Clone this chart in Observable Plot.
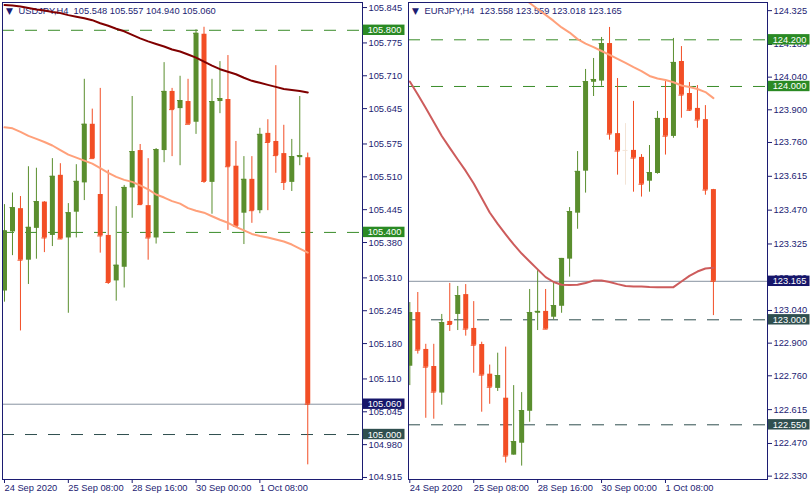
<!DOCTYPE html>
<html><head><meta charset="utf-8">
<script src="https://cdn.jsdelivr.net/npm/d3@7"></script>
<script src="https://cdn.jsdelivr.net/npm/@observablehq/plot@0.6"></script>
<style>
body{margin:0;background:#fff;}
#wrap{display:flex;width:812px;height:500px;overflow:hidden;}
#wrap svg{display:block;flex:none;}
</style></head><body><div id="wrap"></div>
<script>
// ---- shared time axis ----
const timeTickIdx = [0, 8, 16, 24, 32];
const timeTickLabels = ["24 Sep 2020", "25 Sep 08:00", "28 Sep 16:00", "30 Sep 00:00", "1 Oct 08:00"];

// ---- USDJPY H4 ----
const usdjpyOpen  = [105.284,105.401,105.447,105.345,105.408,105.460,105.394,105.513,105.389,105.440,105.498,105.614,105.475,105.394,105.304,105.331,105.488,105.562,105.453,105.389,105.562,105.679,105.645,105.659,105.618,105.792,105.499,105.659,105.663,105.531,105.438,105.505,105.443,105.596,105.580,105.556,105.499,105.548,105.548];
const usdjpyHigh  = [105.455,105.478,105.471,105.530,105.527,105.461,105.546,105.536,105.457,105.534,105.703,105.644,105.685,105.523,105.451,105.493,105.669,105.574,105.546,105.566,105.736,105.685,105.709,105.703,105.801,105.806,105.703,105.738,105.750,105.580,105.550,105.550,105.606,105.623,105.730,105.612,105.584,105.669,105.557];
const usdjpyLow   = [105.262,105.354,105.205,105.297,105.347,105.360,105.372,105.386,105.240,105.389,105.463,105.546,105.359,105.297,105.264,105.290,105.428,105.453,105.345,105.377,105.538,105.550,105.532,105.614,105.594,105.497,105.436,105.635,105.404,105.412,105.376,105.418,105.437,105.443,105.517,105.483,105.481,105.532,104.940];
const usdjpyClose = [105.403,105.449,105.345,105.410,105.461,105.389,105.511,105.387,105.439,105.501,105.614,105.546,105.393,105.301,105.335,105.489,105.560,105.455,105.389,105.564,105.679,105.643,105.661,105.614,105.794,105.501,105.659,105.665,105.530,105.412,105.505,105.443,105.594,105.578,105.552,105.499,105.550,105.552,105.060];
const usdjpyMaSlow = [105.850,105.849,105.847,105.844,105.841,105.839,105.836,105.834,105.830,105.827,105.824,105.820,105.814,105.809,105.803,105.798,105.791,105.784,105.778,105.773,105.768,105.762,105.758,105.752,105.746,105.738,105.730,105.723,105.718,105.713,105.706,105.700,105.696,105.692,105.688,105.684,105.682,105.680,105.677];
const usdjpyMaFast = [105.608,105.606,105.599,105.591,105.585,105.579,105.572,105.563,105.554,105.548,105.542,105.536,105.527,105.518,105.510,105.504,105.500,105.493,105.485,105.475,105.469,105.462,105.457,105.448,105.443,105.439,105.432,105.425,105.419,105.411,105.404,105.397,105.393,105.390,105.386,105.382,105.376,105.368,105.360];
const usdjpyLevels = [105.800, 105.400, 105.060, 105.000];
const usdjpyLevelKinds = ["res", "res", "cur", "sup"];
const usdjpyTicks = [105.845,105.775,105.710,105.645,105.575,105.510,105.445,105.380,105.310,105.245,105.180,105.110,105.045,104.980,104.915];

// ---- EURJPY H4 ----
const eurjpyOpen  = [122.801,123.031,122.873,122.800,122.686,122.993,123.023,123.108,122.963,122.894,122.767,122.706,122.664,122.420,122.471,122.608,123.028,123.036,123.011,123.058,123.260,123.457,123.637,124.018,124.023,124.184,123.798,123.726,123.726,123.696,123.594,123.627,123.863,123.786,124.107,123.970,123.906,123.858,123.558];
const eurjpyHigh  = [123.074,123.117,122.895,122.895,123.023,123.156,123.143,123.151,123.078,122.904,122.806,122.857,122.883,122.718,122.688,123.130,123.211,123.130,123.164,123.263,123.481,123.721,124.073,124.120,124.210,124.253,124.034,123.841,123.936,123.708,123.747,123.893,124.021,124.206,124.171,124.017,124.004,123.918,123.559];
const eurjpyLow   = [122.718,122.853,122.578,122.574,122.634,122.950,122.954,122.930,122.771,122.604,122.638,122.693,122.386,122.420,122.373,122.561,122.954,122.958,123.000,123.028,123.183,123.388,123.543,123.957,124.001,123.770,123.620,123.577,123.547,123.526,123.547,123.624,123.706,123.778,123.864,123.893,123.821,123.534,123.018];
const eurjpyClose = [123.031,122.870,122.797,122.690,122.988,122.980,123.104,122.960,122.891,122.763,122.711,122.761,122.416,122.478,122.611,123.031,123.036,122.960,123.061,123.263,123.464,123.636,124.021,124.030,124.184,123.796,123.723,123.726,123.693,123.581,123.631,123.863,123.787,124.103,123.963,123.898,123.856,123.556,123.165];
const eurjpyMaSlow = [124.021,123.966,123.908,123.848,123.788,123.737,123.687,123.638,123.584,123.522,123.460,123.411,123.366,123.323,123.284,123.250,123.216,123.183,123.162,123.150,123.149,123.150,123.158,123.168,123.168,123.162,123.153,123.145,123.143,123.143,123.141,123.140,123.140,123.140,123.164,123.188,123.207,123.220,123.223];
const eurjpyMaFast = [null,null,null,null,null,null,null,null,null,null,null,null,null,null,124.384,124.358,124.332,124.307,124.281,124.253,124.231,124.203,124.184,124.169,124.152,124.135,124.118,124.101,124.083,124.066,124.045,124.034,124.028,124.018,124.004,123.998,123.989,123.976,123.950];
const eurjpyLevels = [124.200, 124.000, 123.165, 123.000, 122.550];
const eurjpyLevelKinds = ["res", "res", "cur", "sup", "sup"];
const eurjpyTicks = [124.325,124.180,124.040,123.900,123.760,123.615,123.470,123.325,123.180,123.040,122.900,122.760,122.615,122.470,122.330];

// ---- styles ----
const BULL = "#5a8e2e", BEAR = "#f24e25", DOJI = "#f3e4d6", NAVY = "#1c1c72";
const LEVEL_LINE = {res: "#3a8c2a", sup: "#2f4f4f", cur: "#8793a0"};
const LEVEL_BG = {res: "#2a8a24", sup: "#2f4f4f", cur: "#16166a"};

function panel(cfg) {
  const {symbol, tf, open, high, low, close, mas, levels, levelKinds, yTicks, xDomain, yDomain, marginRight} = cfg;
  const W = 406, H = 500, mt = 2, mb = 21, ml = 2;
  const pxX = (W - ml - marginRight) / (xDomain[1] - xDomain[0]);
  const pxY = (H - mt - mb) / (yDomain[1] - yDomain[0]);
  const bars = open.map((o, i) => ({i, open: o, high: high[i], low: low[i], close: close[i]}));
  const col = d => d.open === d.close ? DOJI : (d.close > d.open ? BULL : BEAR);
  const last = bars[bars.length - 1];
  const title = `${symbol},${tf}\u00a0\u00a0${[last.open, last.high, last.low, last.close].map(v => v.toFixed(3)).join(" ")}`;
  const lv = levels.map((p, k) => ({price: p, kind: levelKinds[k]}));
  const dashed = lv.filter(d => d.kind !== "cur"), solid = lv.filter(d => d.kind === "cur");
  const bx1 = xDomain[1] + 0.7 / pxX, bx2 = xDomain[1] + 42.5 / pxX, hh = 5.2 / pxY;
  const ticks = timeTickIdx.map((i, k) => ({i, label: timeTickLabels[k]}));
  return Plot.plot({
    width: W, height: H, marginTop: mt, marginBottom: mb, marginLeft: ml, marginRight,
    x: {domain: xDomain, axis: null},
    y: {domain: yDomain, axis: "right", ticks: yTicks, tickFormat: d => d.toFixed(3), tickSize: 4, tickPadding: 2, label: null},
    color: {type: "identity"},
    style: {fontFamily: "'Liberation Sans', Arial, sans-serif", fontSize: "9.3px", color: NAVY, background: "#fff", overflow: "visible"},
    marks: [
      Plot.ruleY(solid, {y: "price", stroke: d => LEVEL_LINE[d.kind], strokeWidth: 1}),
      Plot.ruleY(dashed, {y: "price", stroke: d => LEVEL_LINE[d.kind], strokeWidth: 1, strokeDasharray: "12,11"}),
      Plot.text([title], {frameAnchor: "top-left", dx: 16, dy: 9, text: d => d, fill: NAVY, textAnchor: "start", lineAnchor: "middle"}),
      Plot.text(["\u25BC"], {frameAnchor: "top-left", dx: 3.5, dy: 9, text: d => d, fill: NAVY, fontSize: 9, fontFamily: "DejaVu Sans", textAnchor: "start", lineAnchor: "middle"}),
      Plot.ruleX(bars, {x: "i", y1: "low", y2: "high", stroke: col, strokeWidth: 1, clip: true}),
      Plot.ruleX(bars, {x: "i", y1: "open", y2: "close", stroke: col, strokeWidth: 5, clip: true}),
      Plot.ruleY(bars, {y: "close", x1: d => d.i - 2.5 / pxX, x2: d => d.i + 2.5 / pxX, stroke: col, clip: true}),
      ...mas.map(m => Plot.line(bars, {x: "i", y: d => m.values[d.i], stroke: m.color, strokeWidth: 2, clip: true})),
      Plot.frame({stroke: NAVY}),
      Plot.ruleX(ticks, {x: "i", y1: yDomain[0], y2: yDomain[0] - 4 / pxY, stroke: NAVY}),
      Plot.text(ticks, {x: "i", text: "label", frameAnchor: "bottom", dy: 9, textAnchor: "start", lineAnchor: "middle", fill: NAVY}),
      Plot.rect(lv, {x1: bx1, x2: bx2, y1: d => d.price - hh, y2: d => d.price + hh, fill: d => LEVEL_BG[d.kind]}),
      Plot.text(lv, {x: bx1 + 4.5 / pxX, y: "price", text: d => d.price.toFixed(3), fill: "#fff", textAnchor: "start", lineAnchor: "middle"})
    ]
  });
}

const wrap = document.getElementById("wrap");
wrap.append(panel({
  symbol: "USDJPY", tf: "H4",
  open: usdjpyOpen, high: usdjpyHigh, low: usdjpyLow, close: usdjpyClose,
  mas: [{values: usdjpyMaSlow, color: "#800000"}, {values: usdjpyMaFast, color: "#ffa07a"}],
  levels: usdjpyLevels, levelKinds: usdjpyLevelKinds, yTicks: usdjpyTicks,
  xDomain: [-0.25, 44.86], yDomain: [104.911, 105.855], marginRight: 44
}));
wrap.append(panel({
  symbol: "EURJPY", tf: "H4",
  open: eurjpyOpen, high: eurjpyHigh, low: eurjpyLow, close: eurjpyClose,
  mas: [{values: eurjpyMaSlow, color: "#cd5c5c"}, {values: eurjpyMaFast, color: "#ffa07a"}],
  levels: eurjpyLevels, levelKinds: eurjpyLevelKinds, yTicks: eurjpyTicks,
  xDomain: [-0.163, 44.77], yDomain: [122.3156, 124.3599], marginRight: 45
}));
</script>
</body></html>
